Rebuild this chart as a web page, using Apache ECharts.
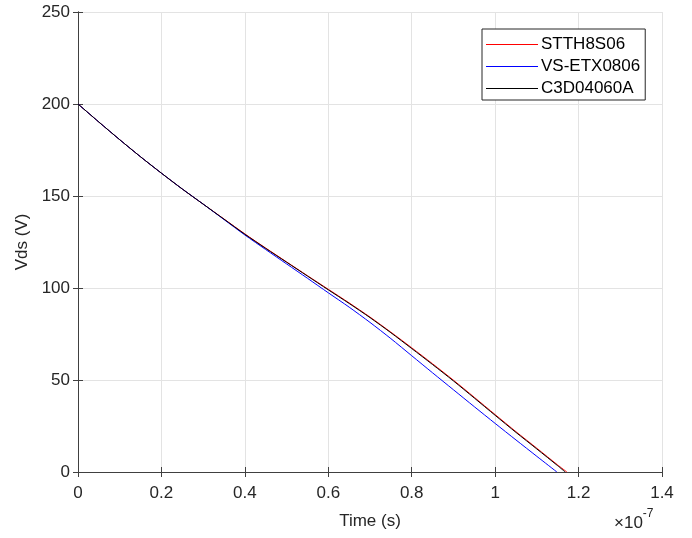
<!DOCTYPE html>
<html>
<head>
<meta charset="utf-8">
<script src="https://cdn.jsdelivr.net/npm/echarts@6/dist/echarts.min.js"></script>
<style>
  html, body { margin: 0; padding: 0; background: #fff; }
  #chart { width: 692px; height: 538px; }
</style>
</head>
<body>
<div id="chart"></div>
<script>
// Time in units of 1e-7 s (axis carries the ×10^-7 multiplier)
const timeStart = [0, 0.05, 0.1, 0.15, 0.2, 0.25, 0.3, 0.35, 0.4, 0.45, 0.5, 0.55,
                   0.6, 0.65, 0.7, 0.75, 0.8, 0.85, 0.9, 0.95, 1.0, 1.05, 1.1, 1.15];

const timeSTTH = timeStart.concat([1.172]);
const vdsSTTH = [200, 190.2, 180.6, 171.3, 162.4, 153.8, 145.6, 137.5, 129.4, 121.7, 114.2, 106.7,
                 99.3, 91.9, 84.2, 76.0, 67.5, 58.8, 49.9, 40.6, 31.2, 21.9, 12.9, 3.8, 0];

const timeVS = timeStart.slice(0, 23).concat([1.148]);
const vdsVS = [200, 190.2, 180.6, 171.3, 162.4, 153.8, 145.6, 137.2, 128.8, 120.9, 113.1, 105.3,
               97.4, 89.6, 81.3, 72.5, 63.2, 53.9, 44.7, 35.5, 26.4, 17.4, 8.5, 0];

const timeC3D = timeStart.concat([1.168]);
const vdsC3D = [200, 190.2, 180.6, 171.3, 162.4, 153.8, 145.6, 137.4, 129.2, 121.5, 114.0, 106.5,
                99.0, 91.6, 83.9, 75.7, 67.1, 58.4, 49.5, 40.2, 30.8, 21.5, 12.5, 3.4, 0];

const seriesNames = ['STTH8S06', 'VS-ETX0806', 'C3D04060A'];
const seriesColors = ['#ff0000', '#0000ff', '#000000'];

function pairs(xs, ys) { return xs.map((x, i) => [x, ys[i]]); }

const FONT = 'Liberation Sans, Arial, Helvetica, sans-serif';
const AXIS = '#404040';
const GRID = '#e3e3e3';

const chart = echarts.init(document.getElementById('chart'), null, { renderer: 'canvas' });

const baseAxis = {
  type: 'value',
  axisLine: { show: true, lineStyle: { color: AXIS, width: 1 } },
  axisTick: { show: true, inside: true, length: 5, lineStyle: { color: AXIS } }
};

chart.setOption({
  animation: false,
  backgroundColor: '#ffffff',
  grid: { left: 78, right: 30, top: 12, bottom: 66, containLabel: false },
  xAxis: [
    Object.assign({}, baseAxis, {
      position: 'bottom', min: 0, max: 1.4, interval: 0.2,
      name: 'Time (s)', nameLocation: 'middle', nameGap: 41,
      nameTextStyle: { fontFamily: FONT, fontSize: 17, color: '#262626' },
      axisLabel: { fontFamily: FONT, fontSize: 17, color: '#262626', margin: 13,
                   formatter: v => String(+v.toFixed(1)) },
      splitLine: { show: true, lineStyle: { color: GRID, width: 1 } }
    }),
    Object.assign({}, baseAxis, {
      position: 'top', min: 0, max: 1.4, interval: 0.2,
      axisLabel: { show: false }, splitLine: { show: false }
    })
  ],
  yAxis: [
    Object.assign({}, baseAxis, {
      position: 'left', min: 0, max: 250, interval: 50,
      name: 'Vds (V)', nameLocation: 'middle', nameGap: 47,
      nameTextStyle: { fontFamily: FONT, fontSize: 17, color: '#262626' },
      axisLabel: { fontFamily: FONT, fontSize: 17, color: '#262626', margin: 8 },
      splitLine: { show: true, lineStyle: { color: GRID, width: 1 } }
    }),
    Object.assign({}, baseAxis, {
      position: 'right', min: 0, max: 250, interval: 50,
      axisLabel: { show: false }, splitLine: { show: false }
    })
  ],
  legend: {
    orient: 'vertical',
    left: 482, top: 29,
    data: seriesNames,
    backgroundColor: '#ffffff',
    borderColor: '#262626', borderWidth: 1,
    padding: [7, 5, 3, 4],
    itemWidth: 52, itemHeight: 1, itemGap: 5,
    textStyle: { fontFamily: FONT, fontSize: 17, color: '#000', padding: [0, 0, 0, -2] },
    icon: 'rect'
  },
  graphic: [{
    type: 'text',
    left: 614, top: 508,
    style: {
      text: '{a|×10}{b|-7}',
      rich: {
        a: { fontFamily: FONT, fontSize: 17, fill: '#262626', verticalAlign: 'bottom', lineHeight: 24 },
        b: { fontFamily: FONT, fontSize: 12, fill: '#262626', verticalAlign: 'top', lineHeight: 24, padding: [0, 0, 8, 0] }
      }
    }
  }],
  series: [
    { name: seriesNames[0], data: pairs(timeSTTH, vdsSTTH) },
    { name: seriesNames[1], data: pairs(timeVS, vdsVS) },
    { name: seriesNames[2], data: pairs(timeC3D, vdsC3D) }
  ].map((s, i) => Object.assign(s, {
    type: 'line', xAxisIndex: 0, yAxisIndex: 0,
    smooth: 0.25, symbol: 'none', showSymbol: false,
    color: seriesColors[i],
    lineStyle: { color: seriesColors[i], width: 1 },
    itemStyle: { color: seriesColors[i] }
  }))
});
</script>
</body>
</html>
